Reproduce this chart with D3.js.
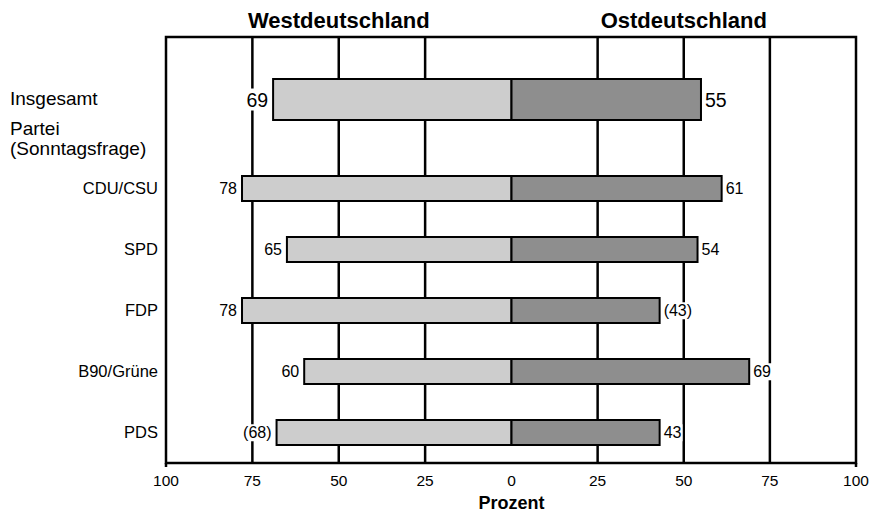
<!DOCTYPE html>
<meta charset="utf-8">
<style>
body { margin: 0; background: #fff; }
text { font-family: "Liberation Sans", Arial, sans-serif; fill: #000; }
</style>
<svg width="869" height="514"></svg>
<script src="https://d3js.org/d3.v7.min.js"></script>
<script>

var parties = ["CDU/CSU", "SPD", "FDP", "B90/Grüne", "PDS"];
var westValues = [78, 65, 78, 60, 68];
var eastValues = [61, 54, 43, 69, 43];
var westLabels = ["78", "65", "78", "60", "(68)"];
var eastLabels = ["61", "54", "(43)", "69", "43"];
var totalWest = 69, totalEast = 55;
var ticks = [100, 75, 50, 25, 0, 25, 50, 75, 100];

var svg = d3.select("svg");
var plotTop = 37, plotBottom = 463, plotLeft = 166, plotRight = 856, mid = 511.5;

var xw = d3.scaleLinear().domain([0, 100]).range([mid, plotLeft]);
var xe = d3.scaleLinear().domain([0, 100]).range([mid, plotRight]);
var y = d3.scaleBand().domain(parties).range([158, 463]).paddingInner(36 / 61).paddingOuter(18 / 61);
var yTotal = 79, hTotal = 41;

// grid lines
[75, 50, 25].forEach(function (v) {
  [xw(v), xe(v)].forEach(function (x) {
    svg.append("line").attr("x1", x).attr("x2", x).attr("y1", plotTop).attr("y2", plotBottom)
      .attr("stroke", "#000").attr("stroke-width", 2.5);
  });
});

// frame
svg.append("rect").attr("x", plotLeft).attr("y", plotTop)
  .attr("width", plotRight - plotLeft).attr("height", plotBottom - plotTop)
  .attr("fill", "none").attr("stroke", "#000").attr("stroke-width", 2.5);
[plotLeft, plotRight].forEach(function (x) {
  svg.append("line").attr("x1", x).attr("x2", x).attr("y1", plotBottom).attr("y2", plotBottom + 4)
    .attr("stroke", "#000").attr("stroke-width", 2.5);
});

function barRow(yy, h, wv, ev, wl, el, fs) {
  svg.append("rect").attr("x", xw(wv)).attr("y", yy).attr("width", mid - xw(wv)).attr("height", h)
    .attr("fill", "#cdcdcd").attr("stroke", "#000").attr("stroke-width", 2);
  svg.append("rect").attr("x", mid).attr("y", yy).attr("width", xe(ev) - mid).attr("height", h)
    .attr("fill", "#8e8e8e").attr("stroke", "#000").attr("stroke-width", 2);
  var wt = svg.append("text").attr("x", xw(wv) - 5).attr("y", yy + h / 2).attr("dy", "0.36em")
    .attr("text-anchor", "end").attr("font-size", fs).text(wl);
  var et = svg.append("text").attr("x", xe(ev) + 4).attr("y", yy + h / 2).attr("dy", "0.36em")
    .attr("font-size", fs).text(el);
  [wt, et].forEach(function (t) {
    var b = t.node().getBBox();
    svg.insert("rect", function () { return t.node(); })
      .attr("x", b.x - 1).attr("y", b.y).attr("width", b.width + 2).attr("height", b.height)
      .attr("fill", "#fff");
  });
}

barRow(yTotal, hTotal, totalWest, totalEast, String(totalWest), String(totalEast), 19.5);
parties.forEach(function (p, i) {
  barRow(y(p), y.bandwidth(), westValues[i], eastValues[i], westLabels[i], eastLabels[i], 16);
  svg.append("text").attr("x", 158).attr("y", y(p) + y.bandwidth() / 2).attr("dy", "0.36em")
    .attr("text-anchor", "end").attr("font-size", 16.5).text(p);
});

// left category labels
svg.append("text").attr("x", 10).attr("y", 105).attr("font-size", 19).text("Insgesamt");
svg.append("text").attr("x", 10).attr("y", 135).attr("font-size", 19).text("Partei");
svg.append("text").attr("x", 10).attr("y", 155).attr("font-size", 19).text("(Sonntagsfrage)");

// tick labels
var tickX = [];
[100, 75, 50, 25].forEach(function (v) { tickX.push(xw(v)); });
tickX.push(mid);
[25, 50, 75, 100].forEach(function (v) { tickX.push(xe(v)); });
ticks.forEach(function (t, i) {
  svg.append("text").attr("x", tickX[i]).attr("y", 486).attr("text-anchor", "middle")
    .attr("font-size", 15.5).text(t);
});

svg.append("text").attr("x", mid).attr("y", 509).attr("text-anchor", "middle")
  .attr("font-size", 18).attr("font-weight", "bold").text("Prozent");

svg.append("text").attr("x", xw(50)).attr("y", 28).attr("text-anchor", "middle")
  .attr("font-size", 22).attr("font-weight", "bold").text("Westdeutschland");
svg.append("text").attr("x", xe(50)).attr("y", 28).attr("text-anchor", "middle")
  .attr("font-size", 22).attr("font-weight", "bold").text("Ostdeutschland");

</script>
